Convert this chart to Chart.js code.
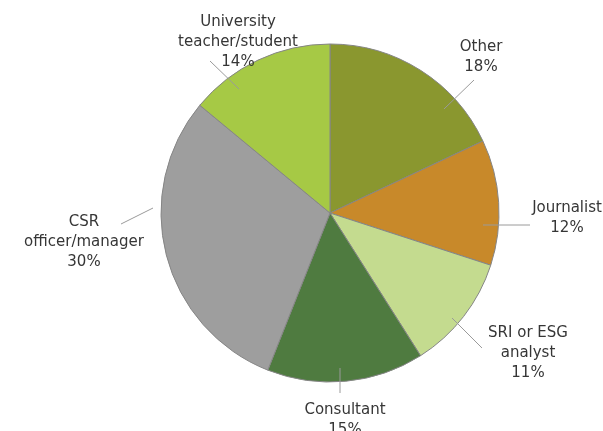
<!DOCTYPE html>
<html>
<head>
<meta charset="utf-8">
<script src="https://cdn.jsdelivr.net/npm/chart.js@4.4.1/dist/chart.umd.min.js"></script>
<style>
  html, body { margin: 0; padding: 0; background: #ffffff; }
  #wrap { width: 603px; height: 431px; }
</style>
</head>
<body>
<div id="wrap"><canvas id="profileChart" width="603" height="431"></canvas></div>
<script>
// Respondent profile, clockwise from 12 o'clock
const categories = ['Other', 'Journalist', 'SRI or ESG\nanalyst', 'Consultant', 'CSR\nofficer/manager', 'University\nteacher/student'];
const shares = [18, 12, 11, 15, 30, 14];
const sliceColors = ['#8a972f', '#c8892a', '#c4db8f', '#4f7b40', '#9e9e9e', '#a6c945'];

// label block centre and leader line ends, in px from the pie centre
const labelPlacement = [
  { text: [151, -156], line: [[144, -133], [114, -104]] },
  { text: [237, 5],    line: [[200, 12],   [153, 12]] },
  { text: [198, 140],  line: [[152, 135],  [122, 105]] },
  { text: [15, 207],   line: [[10, 180],   [10, 155]] },
  { text: [-246, 29],  line: [[-209, 11],  [-177, -5]] },
  { text: [-92, -171], line: [[-120, -152], [-91, -124]] }
];

const labelFont = '15px "DejaVu Sans", sans-serif';
const lineHeight = 20;

const outsideLabels = {
  id: 'outsideLabels',
  afterDatasetsDraw(chart) {
    const ctx = chart.ctx;
    const arcs = chart.getDatasetMeta(0).data;
    ctx.save();
    arcs.forEach((arc, i) => {
      const place = labelPlacement[i];
      const cx = arc.x;
      const cy = arc.y;

      ctx.strokeStyle = '#9a9a9a';
      ctx.lineWidth = 1;
      ctx.beginPath();
      ctx.moveTo(cx + place.line[0][0], cy + place.line[0][1]);
      ctx.lineTo(cx + place.line[1][0], cy + place.line[1][1]);
      ctx.stroke();

      const lines = categories[i].split('\n').concat(shares[i] + '%');
      const top = cy + place.text[1] - (lines.length - 1) * lineHeight / 2;
      ctx.fillStyle = '#363636';
      ctx.font = labelFont;
      ctx.textAlign = 'center';
      ctx.textBaseline = 'middle';
      lines.forEach((line, k) => {
        ctx.fillText(line, cx + place.text[0], top + k * lineHeight);
      });
    });
    ctx.restore();
  }
};

new Chart(document.getElementById('profileChart'), {
  type: 'pie',
  data: {
    labels: categories,
    datasets: [{
      data: shares,
      backgroundColor: sliceColors,
      borderColor: '#858585',
      borderWidth: 1,
      radius: 169
    }]
  },
  options: {
    responsive: false,
    animation: false,
    layout: { padding: { left: 57, right: 0, top: 0, bottom: 5 } },
    plugins: {
      legend: { display: false },
      tooltip: { enabled: false }
    }
  },
  plugins: [outsideLabels]
});
</script>
</body>
</html>
